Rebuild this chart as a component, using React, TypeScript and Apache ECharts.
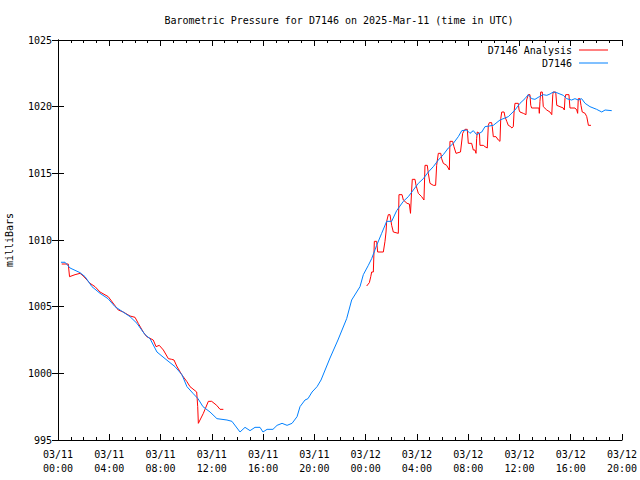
import React, { useEffect, useRef } from "react";
import * as echarts from "echarts";

const chartTitle = "Barometric Pressure for D7146 on 2025-Mar-11 (time in UTC)";
const yAxisName = "milliBars";
const seriesNames = ["D7146 Analysis", "D7146"];
const xTickLabels = [
  "03/11\n00:00", "03/11\n04:00", "03/11\n08:00", "03/11\n12:00",
  "03/11\n16:00", "03/11\n20:00", "03/12\n00:00", "03/12\n04:00",
  "03/12\n08:00", "03/12\n12:00", "03/12\n16:00", "03/12\n20:00",
];

// hours since 03/11 00:00 UTC, pressure (mb)
const stationData: [number, number][] = [
  [0.23, 1008.33], [0.55, 1008.33], [0.94, 1007.9], [1.72, 1007.55], [2.11, 1007.25],
  [2.65, 1006.5], [3.28, 1006.0], [3.9, 1005.6], [4.45, 1005.0], [4.84, 1004.75],
  [5.62, 1004.25], [6.16, 1003.75], [6.79, 1002.9], [7.18, 1002.6], [7.72, 1001.6],
  [8.35, 1001.1], [9.13, 1000.5], [9.67, 999.9], [10.06, 999.0], [10.53, 998.5],
  [10.92, 998.1], [11.31, 997.5], [11.86, 997.1], [12.4, 996.6], [13.18, 996.5],
  [13.57, 996.4], [14.2, 995.6], [14.59, 995.95], [14.98, 995.7], [15.37, 995.95],
  [15.76, 995.95], [15.99, 995.6], [16.31, 995.8], [16.77, 995.8], [17.09, 996.1],
  [17.48, 996.25], [17.87, 996.1], [18.26, 996.25], [18.65, 996.75], [18.88, 997.5],
  [19.27, 998.0], [19.5, 998.1], [19.82, 998.6], [20.21, 999.0], [20.52, 999.5],
  [21.22, 1001.15], [21.84, 1002.5], [22.52, 1004.1], [22.91, 1005.5], [23.3, 1006.1],
  [23.56, 1006.5], [23.82, 1007.4], [24.21, 1008.1], [24.47, 1008.6], [24.86, 1009.6],
  [25.25, 1010.5], [25.64, 1011.4], [26.03, 1011.4], [26.42, 1012.2], [26.94, 1012.9],
  [27.33, 1013.25], [27.72, 1013.75], [28.11, 1014.25], [28.5, 1014.6], [28.89, 1015.1],
  [29.28, 1015.5], [29.67, 1016.0], [30.06, 1016.4], [30.45, 1016.9], [30.84, 1017.25],
  [31.23, 1017.75], [31.5, 1018.2], [31.88, 1018.25], [32.14, 1018.0], [32.4, 1018.2],
  [32.66, 1017.9], [33.06, 1018.1], [33.31, 1018.5], [33.96, 1018.6], [34.48, 1019.0],
  [35.13, 1019.25], [35.65, 1019.75], [36.04, 1020.25], [36.43, 1020.6], [36.69, 1020.9],
  [36.95, 1020.6], [37.21, 1020.55], [37.55, 1020.75], [37.86, 1020.9], [38.13, 1020.85],
  [38.38, 1020.95], [38.64, 1021.1], [38.91, 1021.05], [39.16, 1020.95], [39.42, 1020.85],
  [39.68, 1020.6], [40.07, 1020.5], [40.33, 1020.6], [40.59, 1020.5], [40.85, 1020.6],
  [41.12, 1020.25], [41.5, 1020.0], [42.02, 1019.8], [42.42, 1019.6], [42.68, 1019.75],
  [43.2, 1019.7],
];

const analysisEarly: [number, number][] = [
  [0.29, 1008.2], [0.8, 1008.2], [0.9, 1007.25], [1.33, 1007.4], [1.72, 1007.5],
  [1.97, 1007.3], [2.5, 1006.75], [2.89, 1006.5], [3.28, 1006.1], [3.92, 1005.75],
  [4.7, 1004.75], [5.09, 1004.6], [5.62, 1004.3], [6.01, 1004.2], [6.26, 1003.75],
  [6.65, 1003.1], [6.92, 1002.75], [7.43, 1002.5], [7.65, 1002.0], [7.9, 1002.1],
  [8.22, 1001.75], [8.61, 1001.1], [8.87, 1001.05], [9.05, 1001.0], [9.26, 1000.55],
  [9.65, 999.9], [10.04, 999.4], [10.3, 999.0], [10.69, 998.7], [10.82, 998.6],
  [10.9, 997.5], [10.95, 996.25], [11.34, 997.0], [11.73, 997.9], [11.99, 997.9],
  [12.38, 997.6], [12.64, 997.3], [12.9, 997.3],
];

const analysisLate: [number, number][] = [
  [24.08, 1006.55], [24.29, 1006.8], [24.4, 1007.25], [24.47, 1007.6], [24.6, 1007.6],
  [24.68, 1009.9], [24.86, 1009.9], [24.94, 1009.1], [25.38, 1009.1], [25.51, 1009.9],
  [25.59, 1010.6], [25.64, 1011.4], [25.77, 1011.9], [25.9, 1011.9], [26.03, 1011.1],
  [26.16, 1010.6], [26.55, 1010.5], [26.6, 1013.4], [26.84, 1013.4], [26.94, 1013.0],
  [27.23, 1012.75], [27.41, 1012.7], [27.5, 1012.0], [27.54, 1012.0], [27.59, 1013.75],
  [27.64, 1014.55], [27.85, 1014.55], [27.93, 1014.1], [28.11, 1013.5], [28.37, 1013.25],
  [28.55, 1013.0], [28.63, 1015.6], [28.81, 1015.6], [28.89, 1015.0], [29.02, 1014.25],
  [29.28, 1014.1], [29.46, 1014.1], [29.54, 1015.6], [29.67, 1016.5], [29.86, 1016.5],
  [29.93, 1016.1], [30.06, 1015.75], [30.32, 1015.6], [30.53, 1015.25], [30.58, 1017.4],
  [30.79, 1017.4], [30.89, 1017.0], [31.05, 1016.5], [31.4, 1016.6], [31.57, 1018.0],
  [31.75, 1018.3], [31.93, 1018.3], [32.01, 1017.25], [32.27, 1017.25], [32.4, 1016.75],
  [32.53, 1016.75], [32.61, 1016.5], [32.66, 1017.6], [32.71, 1018.1], [32.88, 1018.0],
  [32.92, 1017.1], [33.18, 1017.1], [33.31, 1017.0], [33.49, 1016.9], [33.57, 1018.6],
  [33.65, 1018.8], [33.83, 1018.8], [33.88, 1018.5], [33.96, 1017.75], [34.17, 1017.75],
  [34.35, 1017.5], [34.48, 1017.4], [34.54, 1019.1], [34.62, 1019.6], [34.8, 1019.6],
  [34.87, 1019.25], [35.01, 1018.9], [35.13, 1018.6], [35.32, 1018.5], [35.4, 1018.4],
  [35.52, 1018.5], [35.58, 1019.6], [35.65, 1020.25], [35.91, 1020.25], [35.97, 1019.75],
  [36.04, 1019.6], [36.3, 1019.5], [36.51, 1019.4], [36.56, 1020.5], [36.69, 1020.9],
  [36.82, 1020.9], [36.88, 1020.1], [36.95, 1019.9], [37.21, 1019.9], [37.52, 1019.9],
  [37.55, 1019.5], [37.6, 1020.4], [37.66, 1021.1], [37.78, 1021.1], [37.86, 1020.0],
  [38.13, 1019.75], [38.38, 1019.6], [38.52, 1019.4], [38.6, 1020.9], [38.64, 1021.1],
  [38.83, 1021.1], [38.91, 1020.1], [39.16, 1020.0], [39.42, 1019.9], [39.5, 1019.75],
  [39.55, 1020.6], [39.61, 1020.9], [39.86, 1020.9], [39.94, 1019.9], [40.33, 1019.9],
  [40.47, 1019.75], [40.54, 1019.5], [40.59, 1020.6], [40.72, 1020.6], [40.8, 1020.1],
  [40.9, 1019.6], [41.12, 1019.5], [41.25, 1019.25], [41.38, 1018.6], [41.58, 1018.6],
];

const X_MIN = 0;
const X_MAX = 44;
const X_STEP = 4;
const Y_MIN = 995;
const Y_MAX = 1025;
const Y_STEP = 5;

const FONT = "DejaVu Sans Mono";
const RED = "#ff0000";
const BLUE = "#0080ff";

export default function App() {
  const ref = useRef<HTMLDivElement>(null);
  useEffect(() => {
    if (!ref.current) return;
    const chart = echarts.init(ref.current, null, { renderer: "svg" });
    const analysisData: (number[] | string)[] = [
      ...analysisEarly,
      "-",
      ...analysisLate,
    ];
    const axisLine = { show: true, lineStyle: { color: "#000", width: 1 } };
    const xCommon = {
      type: "value" as const,
      min: X_MIN,
      max: X_MAX,
      interval: X_STEP,
      axisLine,
      axisTick: { show: true, inside: true, length: 6, lineStyle: { color: "#000" } },
      minorTick: { show: true, splitNumber: 4, length: 3, lineStyle: { color: "#000" } },
      splitLine: { show: false },
      minorSplitLine: { show: false },
    };
    const yCommon = {
      type: "value" as const,
      min: Y_MIN,
      max: Y_MAX,
      interval: Y_STEP,
      axisLine,
      axisTick: { show: true, inside: true, length: 6, lineStyle: { color: "#000" } },
      splitLine: { show: false },
    };
    chart.setOption({
      animation: false,
      backgroundColor: "#fff",
      title: {
        text: chartTitle,
        left: 334,
        top: 10,
        textAlign: "center",
        textStyle: { fontFamily: FONT, fontSize: 10, fontWeight: "normal", color: "#000" },
      },
      grid: { left: 58, right: 18, top: 40, bottom: 40, containLabel: false, outerBoundsMode: "none" },
      legend: [
        {
          data: [seriesNames[0]],
          right: 27,
          top: 40,
          align: "right",
          icon: "rect",
          itemWidth: 29,
          itemHeight: 1,
          textStyle: { fontFamily: FONT, fontSize: 10, color: "#000", padding: [0, 2, 0, 0] },
        },
        {
          data: [seriesNames[1]],
          right: 27,
          top: 53,
          align: "right",
          icon: "rect",
          itemWidth: 29,
          itemHeight: 1,
          textStyle: { fontFamily: FONT, fontSize: 10, color: "#000", padding: [0, 2, 0, 0] },
        },
      ],
      xAxis: [
        {
          ...xCommon,
          position: "bottom",
          axisLabel: {
            show: true,
            margin: 7,
            fontFamily: FONT,
            fontSize: 10,
            lineHeight: 14,
            color: "#000",
            formatter: (v: number) => xTickLabels[Math.round((v - X_MIN) / X_STEP)] ?? "",
          },
        },
        { ...xCommon, position: "top", axisLabel: { show: false } },
      ],
      yAxis: [
        {
          ...yCommon,
          position: "left",
          name: yAxisName,
          nameLocation: "middle",
          nameGap: 44,
          nameRotate: 90,
          nameTextStyle: { fontFamily: FONT, fontSize: 10, color: "#000" },
          axisLabel: {
            show: true,
            margin: 6,
            fontFamily: FONT,
            fontSize: 10,
            color: "#000",
            formatter: (v: number) => String(v),
          },
        },
        { ...yCommon, position: "right", axisLabel: { show: false } },
      ],
      series: [
        {
          name: seriesNames[0],
          type: "line",
          data: analysisData,
          showSymbol: false,
          symbol: "none",
          connectNulls: false,
          lineStyle: { color: RED, width: 1 },
          itemStyle: { color: RED },
        },
        {
          name: seriesNames[1],
          type: "line",
          data: stationData,
          showSymbol: false,
          symbol: "none",
          lineStyle: { color: BLUE, width: 1 },
          itemStyle: { color: BLUE },
        },
      ],
    });
    return () => chart.dispose();
  }, []);
  return (
    <div
      ref={ref}
      style={{ position: "fixed", left: 0, top: 0, width: 640, height: 480, background: "#fff" }}
    />
  );
}
